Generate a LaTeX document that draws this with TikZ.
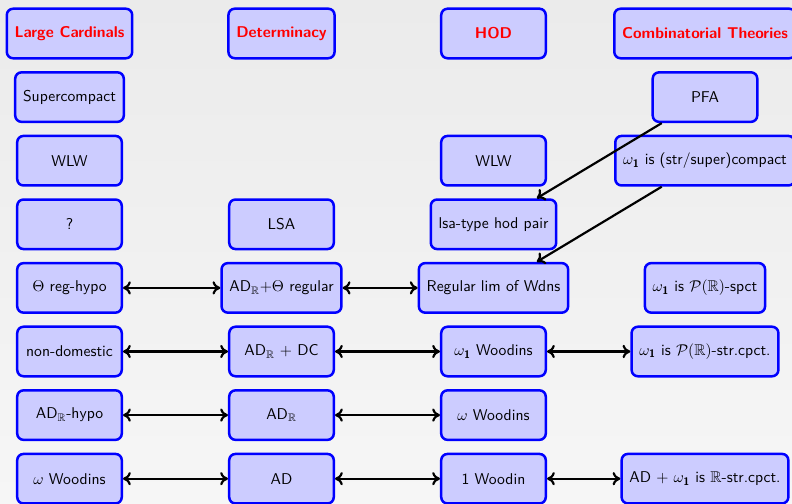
\documentclass[tikz,border=0pt]{standalone}
\usepackage{amsmath,amssymb}
\usetikzlibrary{arrows.meta}
\newcommand{\wone}{\omega_{\textsf{\textbf{1}}}}
\begin{document}
\begin{tikzpicture}[x=0.64pt,y=-0.64pt,
  box/.style={draw=blue, line width=1.6pt, fill=blue!20, rounded corners=4pt,
    minimum width=66.9pt, minimum height=31.7pt, inner xsep=5pt,
    font=\sffamily, text=black},
  head/.style={box, text=red, font=\sffamily\bfseries},
  link/.style={line width=1.4pt, {Computer Modern Rightarrow[length=5pt,width=8.5pt]}-{Computer Modern Rightarrow[length=5pt,width=8.5pt]}},
  imp/.style={line width=1.4pt, -{Computer Modern Rightarrow[length=5pt,width=8.5pt]}}]
\path[use as bounding box] (0,0) rectangle (792,504);
\clip (0,0) rectangle (792,504);
\shade[top color={rgb,255:red,235;green,235;blue,235}, bottom color={rgb,255:red,246;green,246;blue,246}] (0,0) rectangle (792,504);

% headings
\node[head] (lc)  at (69.5,33.5)  {Large Cardinals};
\node[head] (det) at (281.5,33.5) {Determinacy};
\node[head] (hod) at (493.5,33.5) {HOD};
\node[head] (ct)  at (705,33.5)   {Combinatorial Theories};

% row 1
\node[box] (sc)  at (69.5,97.1) {Supercompact};
\node[box] (pfa) at (705,97.1)  {PFA};

% row 2
\node[box] (wlw1) at (69.5,160.7)  {WLW};
\node[box] (wlw3) at (493.5,160.7) {WLW};
\node[box] (cpt)  at (705,160.7)   {$\wone$ is (str/super)compact};

% row 3
\node[box] (q)   at (69.5,224.3)  {?};
\node[box] (lsa) at (281.5,224.3) {LSA};
\node[box] (lhp) at (493.5,224.3) {lsa-type hod pair};

% row 4
\node[box] (treg) at (69.5,287.9)  {$\Theta$ reg-hypo};
\node[box] (adrt) at (281.5,287.9) {AD$_{\mathbb{R}}$+$\Theta$ regular};
\node[box] (rlw)  at (493.5,287.9) {Regular lim of Wdns};
\node[box] (prs)  at (705,287.9)   {$\wone$ is $\mathcal{P}(\mathbb{R})$-spct};

% row 5
\node[box] (nd)   at (69.5,351.5)  {non-domestic};
\node[box] (adrd) at (281.5,351.5) {AD$_{\mathbb{R}}$ $+$ DC};
\node[box] (w1w)  at (493.5,351.5) {$\wone$ Woodins};
\node[box] (prsc) at (705,351.5)   {$\wone$ is $\mathcal{P}(\mathbb{R})$-str.cpct.};

% row 6
\node[box] (adrh) at (69.5,415.1)  {AD$_{\mathbb{R}}$-hypo};
\node[box] (adr)  at (281.5,415.1) {AD$_{\mathbb{R}}$};
\node[box] (ww3)  at (493.5,415.1) {$\omega$ Woodins};

% row 7
\node[box] (ww1) at (69.5,478.7)  {$\omega$ Woodins};
\node[box] (ad)  at (281.5,478.7) {AD};
\node[box] (one) at (493.5,478.7) {1 Woodin};
\node[box] (adr7) at (705,478.7)  {AD $+$ $\wone$ is $\mathbb{R}$-str.cpct.};

% connectors
\draw[link] (treg) -- (adrt);
\draw[link] (adrt) -- (rlw);
\draw[link] (nd) -- (adrd);
\draw[link] (adrd) -- (w1w);
\draw[link] (w1w) -- (prsc);
\draw[link] (adrh) -- (adr);
\draw[link] (adr) -- (ww3);
\draw[link] (ww1) -- (ad);
\draw[link] (ad) -- (one);
\draw[link] (one) -- (adr7);
\draw[imp] (pfa) -- (lhp);
\draw[imp] (cpt) -- (rlw);
\end{tikzpicture}
\end{document}
